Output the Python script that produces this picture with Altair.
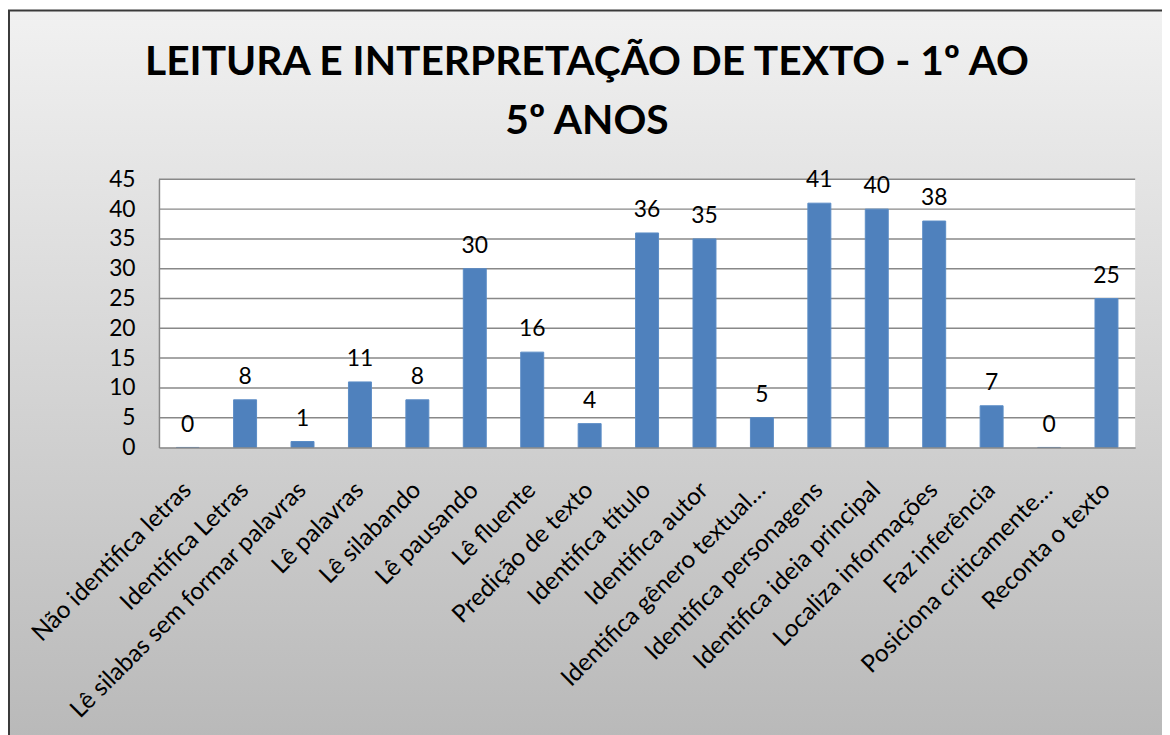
import altair as alt
import pandas as pd

categories = [
    "Não identifica letras", "Identifica Letras", "Lê silabas sem formar palavras",
    "Lê palavras", "Lê silabando", "Lê pausando", "Lê fluente", "Predição de texto",
    "Identifica título", "Identifica autor", "Identifica gênero textual…",
    "Identifica personagens", "Identifica ideia principal", "Localiza informações",
    "Faz inferência", "Posiciona criticamente…", "Reconta o texto",
]
values = [0, 8, 1, 11, 8, 30, 16, 4, 36, 35, 5, 41, 40, 38, 7, 0, 25]
y_ticks = [0, 5, 10, 15, 20, 25, 30, 35, 40, 45]
title_lines = ["LEITURA E INTERPRETAÇÃO DE TEXTO - 1º AO", "5º ANOS"]

W, H = 983, 270
PL, PT, PR, PB = 152, 170, 27, 287
FONT = "Lato"
GRID = "#888888"

df = pd.DataFrame({"cat": categories, "val": values})
grid_df = pd.DataFrame({"v": y_ticks[1:]})
one = pd.DataFrame({"k": [0]})

yscale = alt.Scale(domain=[0, 45], nice=False)
xscale = alt.Scale(paddingInner=0.6, paddingOuter=0.3)

bg = alt.Chart(one).mark_rect(
    fill=alt.Gradient(
        gradient="linear",
        stops=[alt.GradientStop(color="#f1f1f1", offset=0),
               alt.GradientStop(color="#b9b9b9", offset=1)],
        x1=0, x2=0, y1=0, y2=1,
    ),
    stroke="#3a3a3a", strokeWidth=2,
).encode(x=alt.value(-PL + 1), x2=alt.value(W + PR + 6),
         y=alt.value(-PT), y2=alt.value(H + PB + 6))

plot_bg = alt.Chart(one).mark_rect(fill="white").encode(
    x=alt.value(0), x2=alt.value(W), y=alt.value(0), y2=alt.value(H))

yaxis = alt.Axis(values=y_ticks, grid=False, ticks=False,
                 domainColor=GRID, domainWidth=1.5,
                 labelFont=FONT, labelFontSize=23, labelColor="black",
                 labelPadding=24, labelOverlap=False, zindex=1)

grid = alt.Chart(grid_df).mark_rule(color=GRID, strokeWidth=1.5).encode(
    x=alt.value(0), x2=alt.value(W),
    y=alt.Y("v:Q", scale=yscale, title=None, axis=yaxis))

title = alt.Chart(one).mark_text(
    font=FONT, fontSize=41, fontWeight="bold", color="black",
    align="center", baseline="alphabetic", lineHeight=59,
).encode(x=alt.value(431), y=alt.value(-105), text=alt.value(title_lines))

base = alt.Chart(df).encode(
    x=alt.X("cat:N", sort=categories, scale=xscale, title=None,
            axis=alt.Axis(labelAngle=-45, labelAlign="right", labelBaseline="middle",
                          ticks=False, domainColor=GRID, domainWidth=1.5,
                          labelFont=FONT, labelFontSize=24.5, labelColor="black",
                          labelPadding=39, labelLimit=500, labelOverlap=False,
                          zindex=1)),
    y=alt.Y("val:Q", scale=yscale, title=None, axis=yaxis),
)

bars = base.mark_bar(color="#4F81BD", stroke="#5b8cc6", strokeWidth=1)
labels = base.mark_text(baseline="bottom", dy=-11, font=FONT, fontSize=23,
                        color="black").encode(text="val:Q")

chart = alt.layer(bg, plot_bg, grid, bars, labels, title).properties(
    width=W, height=H,
    autosize="none",
    padding={"left": PL, "top": PT, "right": PR, "bottom": PB},
).resolve_axis(y="shared").configure_view(stroke=None)

chart.save("out.html", embed_options={"renderer": "svg", "actions": False})
